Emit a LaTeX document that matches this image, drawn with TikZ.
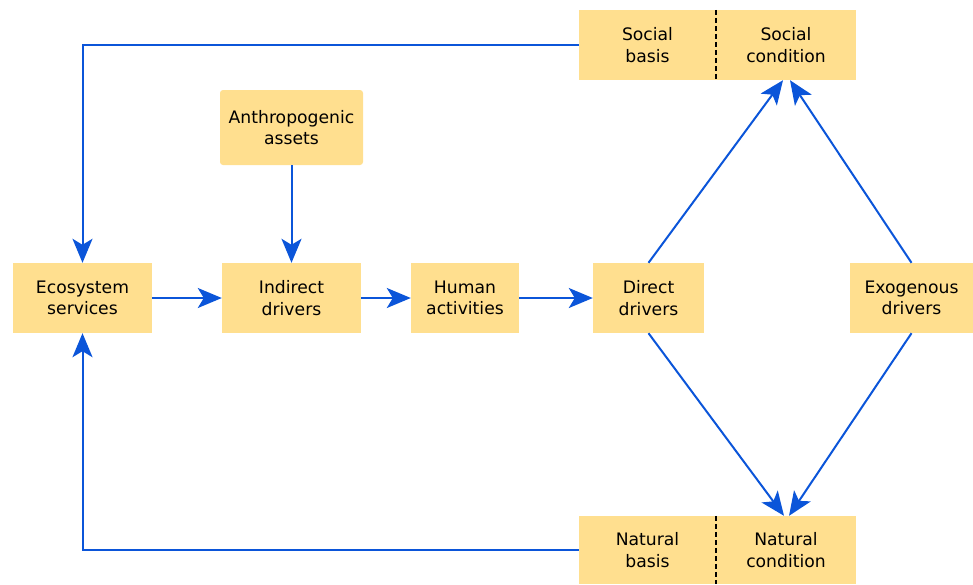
\documentclass[tikz,border=0pt]{standalone}
\usepackage{fontspec}
\setmainfont{DejaVu Sans}
\usetikzlibrary{arrows.meta}
\definecolor{boxfill}{HTML}{FFDF8F}
\definecolor{linkblue}{HTML}{0B55D9}
\begin{document}
\begin{tikzpicture}[x=1pt,y=-1pt,
  box/.style={fill=boxfill, inner sep=0pt, align=center, font=\fontsize{17.2}{21.5}\selectfont},
  link/.style={draw=linkblue, line width=2pt, -{Stealth[length=24pt,width=20pt,inset=6pt]}},
  divider/.style={draw=black, line width=1.5pt, dash pattern=on 5pt off 3pt}]
\useasboundingbox (0,0) rectangle (973,584);
\node[box, minimum width=139, minimum height=70] (eco) at (82.5,298) {Ecosystem\\services};
\node[box, minimum width=139, minimum height=70] (ind) at (291.5,298) {Indirect\\drivers};
\node[box, minimum width=108, minimum height=70] (hum) at (465,298) {Human\\activities};
\node[box, minimum width=111, minimum height=70] (dir) at (648.5,298) {Direct\\drivers};
\node[box, minimum width=123, minimum height=70] (exo) at (911.5,298) {Exogenous\\drivers};
\node[box, rounded corners=3pt, minimum width=143, minimum height=75] (ant) at (291.5,127.5) {Anthropogenic\\assets};
\node[box, minimum width=137, minimum height=70] (sb) at (647.5,45) {Social\\basis};
\node[box, minimum width=140, minimum height=70] (sc) at (786,45) {Social\\condition};
\node[box, minimum width=137, minimum height=68] (nb) at (647.5,550) {Natural\\basis};
\node[box, minimum width=140, minimum height=68] (nc) at (786,550) {Natural\\condition};
\draw[divider] (sb.north east) -- (sb.south east);
\draw[divider] (nb.north east) -- (nb.south east);
\draw[link] (sb.west) -| (eco.north);
\draw[link] (nb.west) -| (eco.south);
\draw[link] (eco.east) -- (ind.west);
\draw[link] (ind.east) -- (hum.west);
\draw[link] (hum.east) -- (dir.west);
\draw[link] (ant.south) -- (ind.north);
\draw[link] (dir.north) -- ([xshift=-3pt]sc.south);
\draw[link] (exo.north) -- ([xshift=4pt]sc.south);
\draw[link] (dir.south) -- ([xshift=-2pt]nc.north);
\draw[link] (exo.south) -- ([xshift=3pt]nc.north);
\end{tikzpicture}
\end{document}
